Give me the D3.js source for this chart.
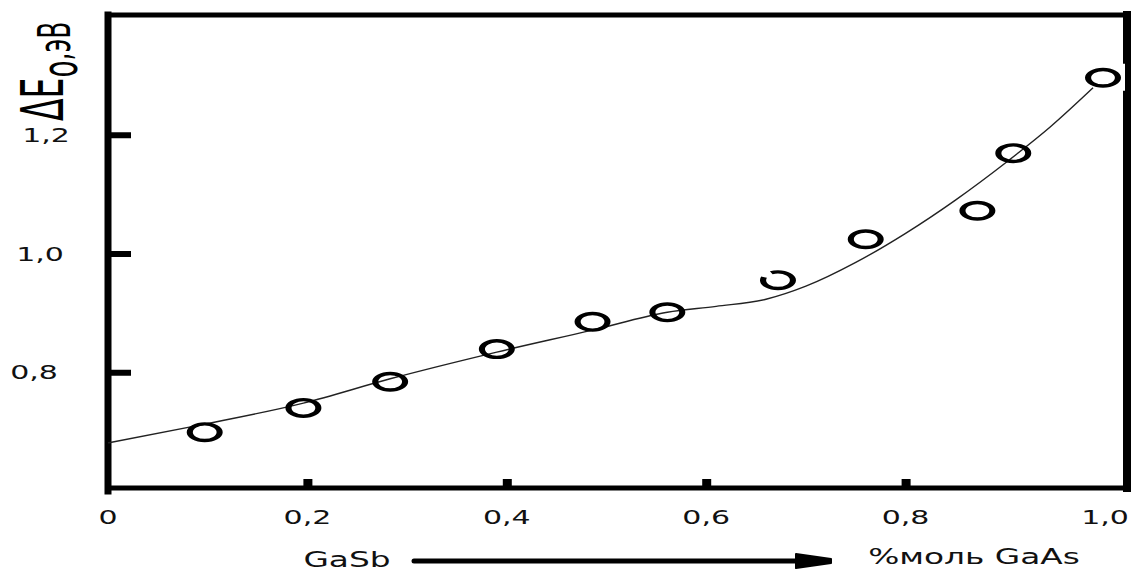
<!DOCTYPE html>
<html>
<head>
<meta charset="utf-8">
<script src="https://cdn.jsdelivr.net/npm/d3@7"></script>
<style>
  html, body { margin: 0; padding: 0; background: #fff; }
  svg { display: block; font-family: "DejaVu Sans", Verdana, sans-serif; }
</style>
</head>
<body>
<div id="chart"></div>
<script>
// --- данные ---
const xTicks = [0, 0.2, 0.4, 0.6, 0.8, 1.0];
const xTickLabels = ["0", "0,2", "0,4", "0,6", "0,8", "1,0"];
const yTicks = [0.8, 1.0, 1.2];
const yTickLabels = ["0,8", "1,0", "1,2"];

// экспериментальные точки (доля GaAs, ΔE0 в эВ)
const pointX = [0.097, 0.196, 0.283, 0.390, 0.486, 0.561, 0.672, 0.760, 0.872, 0.908, 0.998];
const pointY = [0.699, 0.740, 0.784, 0.839, 0.885, 0.901, 0.955, 1.024, 1.072, 1.169, 1.296];

// сглаженная кривая
const curveX = [0, 0.092, 0.196, 0.283, 0.390, 0.486, 0.561, 0.610, 0.660, 0.700, 0.750, 0.800, 0.850, 0.902, 0.945, 0.988];
const curveY = [0.681, 0.711, 0.748, 0.789, 0.834, 0.871, 0.901, 0.911, 0.923, 0.945, 0.985, 1.034, 1.090, 1.155, 1.213, 1.279];

const axisTitle = "ΔE";
const axisTitleSub = "о";
const axisTitleUnit = ",эВ";
const leftLabel = "GaSb";
const rightLabel = "%моль GaAs";

// --- размеры ---
const width = 1143, height = 572;
const frame = { left: 108, right: 1127, top: 15, bottom: 488 };
const stretch = 1.8; // картинка растянута по горизонтали

const svg = d3.select("#chart").append("svg")
    .attr("width", width)
    .attr("height", height);

const x = d3.scaleLinear().domain([0, 1]).range([108, 1105]);
const y = d3.scaleLinear().domain([0.6, 1.4]).range([491, 16]);

// --- рамка ---
const frameG = svg.append("g").attr("stroke", "#000").attr("stroke-linecap", "square");
frameG.append("line").attr("x1", frame.left).attr("x2", frame.left)
    .attr("y1", frame.top).attr("y2", frame.bottom + 3).attr("stroke-width", 7);
frameG.append("line").attr("x1", frame.left).attr("x2", frame.right)
    .attr("y1", frame.top).attr("y2", frame.top).attr("stroke-width", 5);
frameG.append("line").attr("x1", frame.right).attr("x2", frame.right)
    .attr("y1", frame.top).attr("y2", frame.bottom).attr("stroke-width", 8);
frameG.append("line").attr("x1", frame.left).attr("x2", frame.right)
    .attr("y1", frame.bottom).attr("y2", frame.bottom).attr("stroke-width", 5);

// засечки оси Y (внутрь)
const yAxis = d3.axisRight(y).tickValues(yTicks).tickSize(20).tickFormat("");
const yAxisG = svg.append("g")
    .attr("transform", `translate(${frame.left + 3},0)`)
    .call(yAxis);
yAxisG.select(".domain").remove();
yAxisG.selectAll(".tick line").attr("stroke", "#000").attr("stroke-width", 6);

// засечки оси X (короткие, вверх)
const xAxis = d3.axisTop(x).tickValues(xTicks.slice(1, -1)).tickSize(9).tickFormat("");
const xAxisG = svg.append("g")
    .attr("transform", `translate(0,${frame.bottom})`)
    .call(xAxis);
xAxisG.select(".domain").remove();
xAxisG.selectAll(".tick line").attr("stroke", "#000").attr("stroke-width", 9);

// --- подписи делений ---
svg.append("g").selectAll("text")
    .data(xTicks)
    .join("text")
    .attr("transform", d => `translate(${x(d)},524) scale(1.5,1)`)
    .attr("text-anchor", "middle")
    .attr("font-size", 20)
    .attr("fill", "#111")
    .text((d, i) => xTickLabels[i]);

svg.append("g").selectAll("text")
    .data(yTicks)
    .join("text")
    .attr("transform", d => `translate(${40 + (d - 1.0) * 30},${y(d) + 7}) scale(1.5,1)`)
    .attr("text-anchor", "middle")
    .attr("font-size", 20)
    .attr("fill", "#111")
    .text((d, i) => yTickLabels[i]);

// --- заголовок оси Y ---
const title = svg.append("text")
    .attr("transform", `translate(63,121) scale(${stretch},1) rotate(-90)`)
    .attr("font-size", 33)
    .attr("fill", "#000");
title.append("tspan").text(axisTitle);
title.append("tspan").attr("font-size", 28).attr("dy", 8).text(axisTitleSub);
title.append("tspan").attr("font-size", 25).attr("dy", -4).text(axisTitleUnit);

// --- кривая ---
const line = d3.line()
    .x(d => x(d[0]))
    .y(d => y(d[1]))
    .curve(d3.curveMonotoneX);

svg.append("path")
    .datum(d3.zip(curveX, curveY))
    .attr("d", line)
    .attr("fill", "none")
    .attr("stroke", "#222")
    .attr("stroke-width", 1.4);

// разрыв правой рамки у последней точки
svg.append("rect")
    .attr("x", frame.right - 6).attr("y", y(pointY[pointY.length - 1]) - 14)
    .attr("width", 4).attr("height", 27)
    .attr("fill", "#fff");

// --- точки ---
svg.append("g").selectAll("g")
    .data(d3.zip(pointX, pointY))
    .join("g")
    .attr("transform", d => `translate(${x(d[0])},${y(d[1])}) scale(${stretch},1)`)
    .append("circle")
    .attr("r", 8.3)
    .attr("fill", "none")
    .attr("stroke", "#000")
    .attr("stroke-width", 3.4)
    .attr("stroke-dasharray", (d, i) => i === 6 ? "29,6,100" : null);

// --- стрелка состава ---
const arrowG = svg.append("g");
arrowG.append("line")
    .attr("x1", 414).attr("x2", 800)
    .attr("y1", 561).attr("y2", 561)
    .attr("stroke", "#000").attr("stroke-width", 5).attr("stroke-linecap", "round");
arrowG.append("path")
    .attr("d", "M796,554 L831,559 L831,563 L796,568 Z")
    .attr("fill", "#000").attr("stroke", "#000")
    .attr("stroke-width", 2).attr("stroke-linejoin", "round");

svg.append("text")
    .attr("transform", `translate(347,567) scale(1.6,1)`)
    .attr("text-anchor", "middle")
    .attr("font-size", 20.5)
    .attr("fill", "#111")
    .text(leftLabel);

svg.append("text")
    .attr("transform", `translate(974,564) scale(1.6,1)`)
    .attr("text-anchor", "middle")
    .attr("font-size", 20.5)
    .attr("fill", "#111")
    .text(rightLabel);
</script>
</body>
</html>
